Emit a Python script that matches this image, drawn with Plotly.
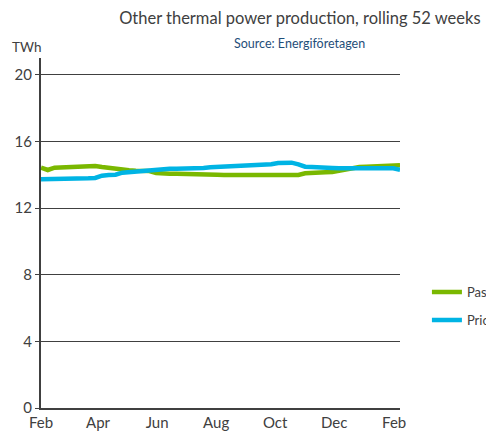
import pandas as pd
import plotly.graph_objects as go

# weekly rolling 52-week totals, TWh
weeks = pd.date_range("2021-02-01", periods=54, freq="7D")

past_year = [
    14.42, 14.28, 14.42, 14.44, 14.44, 14.46, 14.52, 14.54, 14.52, 14.46,
    14.40, 14.32, 14.28, 14.26, 14.24, 14.24, 14.22, 14.10, 14.06, 14.06,
    14.06, 14.06, 14.04, 14.04, 14.04, 14.02, 14.00, 13.98, 13.98, 13.98,
    13.98, 13.98, 13.98, 13.98, 13.98, 13.98, 13.98, 13.98, 13.98, 14.08,
    14.12, 14.14, 14.14, 14.16, 14.24, 14.32, 14.40, 14.46, 14.48, 14.50,
    14.52, 14.58, 14.58, 14.56,
]
prior_year = [
    13.72, 13.72, 13.72, 13.72, 13.72, 13.72, 13.76, 13.78, 13.80, 13.94,
    13.98, 14.00, 14.12, 14.16, 14.18, 14.24, 14.28, 14.32, 14.36, 14.36,
    14.36, 14.36, 14.36, 14.36, 14.40, 14.44, 14.46, 14.46, 14.46, 14.48,
    14.56, 14.58, 14.58, 14.60, 14.62, 14.70, 14.72, 14.72, 14.62, 14.48,
    14.46, 14.46, 14.44, 14.40, 14.38, 14.38, 14.38, 14.38, 14.38, 14.38,
    14.38, 14.38, 14.38, 14.30,
]

tick_dates = pd.date_range("2021-02-01", periods=7, freq="2MS")
tick_text = ["Feb", "Apr", "Jun", "Aug", "Oct", "Dec", "Feb"]

FONT = "Lato"
GREY = "#404040"

fig = go.Figure()
fig.add_trace(go.Scatter(
    x=weeks, y=past_year, mode="lines", name="Past 52 weeks",
    legendgroup="a", line=dict(color="#7ab800", width=4.5),
))
fig.add_trace(go.Scatter(
    x=weeks, y=prior_year, mode="lines", name="Prior 52 weeks",
    legendgroup="b", line=dict(color="#00b4e4", width=4.5),
))

fig.update_layout(
    width=486, height=432,
    margin=dict(l=41, r=86, t=58, b=24, autoexpand=False),
    paper_bgcolor="white", plot_bgcolor="white",
    font=dict(family=FONT, color=GREY, size=14),
    title=dict(
        text="Other thermal power production, rolling 52 weeks",
        x=0.617, xanchor="center", y=0.958, yanchor="middle",
        font=dict(size=16.5, color=GREY),
    ),
    legend=dict(
        x=1.075, xanchor="left", y=0.291, yanchor="middle",
        tracegroupgap=8, font=dict(size=13, color=GREY),
        bgcolor="rgba(0,0,0,0)",
    ),
    annotations=[
        dict(text="Source: Energiföretagen", xref="paper", yref="paper",
             x=0.721, y=1.04, xanchor="center", yanchor="middle",
             showarrow=False, font=dict(size=12.5, color="#1f4e79")),
        dict(text="TWh", xref="paper", yref="paper",
             x=-0.086, y=1.031, xanchor="left", yanchor="middle",
             showarrow=False, font=dict(size=13.5, color=GREY)),
    ],
)
fig.update_xaxes(
    range=["2021-02-01", "2022-02-07"],
    tickvals=tick_dates, ticktext=tick_text,
    showgrid=False, showline=True, linecolor=GREY, linewidth=2,
    ticks="", tickfont=dict(size=15, color=GREY),
)
fig.update_yaxes(
    range=[0, 21], tickvals=[0, 4, 8, 12, 16, 20],
    showgrid=True, gridcolor=GREY, gridwidth=1,
    showline=True, linecolor=GREY, linewidth=2,
    ticks="outside", ticklen=4, tickcolor=GREY, tickwidth=1,
    zeroline=False, tickfont=dict(size=15, color=GREY),
)

# drop the browser's default body margin so the chart sits at 0,0
fig.write_html(
    "out.html",
    config={"displayModeBar": False},
    post_script="document.body.style.margin='0';",
)
